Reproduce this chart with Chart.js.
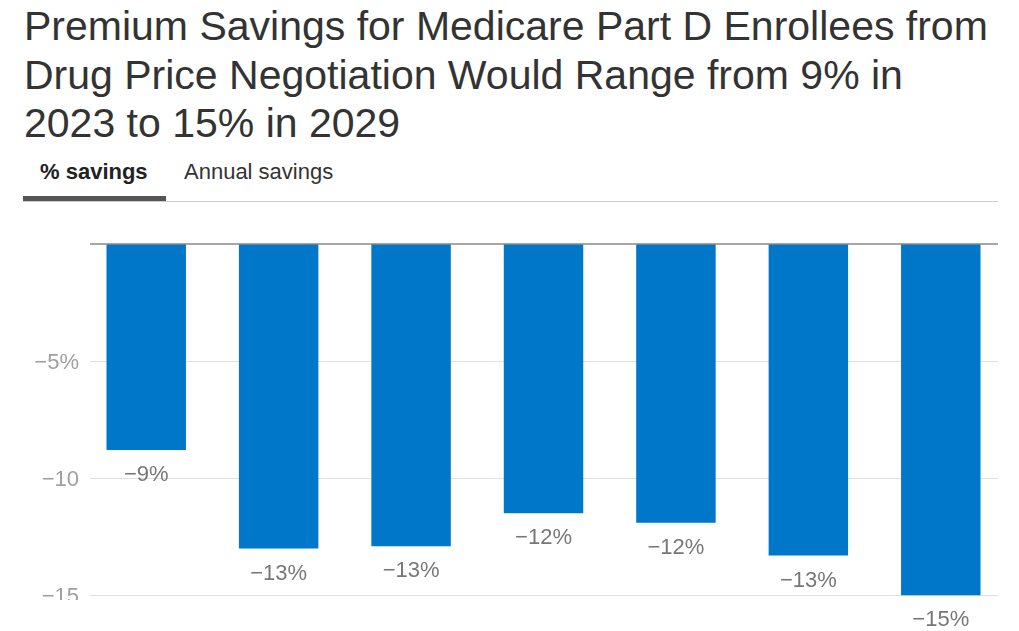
<!DOCTYPE html>
<html>
<head>
<meta charset="utf-8">
<script src="https://cdn.jsdelivr.net/npm/chart.js@4.4.1/dist/chart.umd.min.js"></script>
<style>
  html, body { margin: 0; padding: 0; background: #fff; overflow: hidden; }
  body { width: 1019px; height: 631px; position: relative; font-family: "Liberation Sans", Arial, sans-serif; }
  .title { position: absolute; left: 24px; top: 2px; width: 995px; font-size: 41px; line-height: 48.5px; color: #333; white-space: nowrap; }
  .tabs { position: absolute; left: 23px; top: 158px; width: 975px; height: 43px; border-bottom: 1px solid #ccc; }
  .tab { position: absolute; top: 1px; font-size: 22px; color: #333; }
  .tab.on { left: 17px; font-weight: bold; color: #222; }
  .tab.off { left: 161px; }
  .bar { position: absolute; left: 0; top: 38px; width: 143px; height: 5px; background: #555; }
  .chart-container { position: absolute; left: 0; top: 210px; width: 1019px; height: 421px; }
</style>
</head>
<body>
<div class="title">Premium Savings for Medicare Part D Enrollees from<br>Drug Price Negotiation Would Range from 9% in<br>2023 to 15% in 2029</div>
<div class="tabs">
  <div class="tab on">% savings</div>
  <div class="tab off">Annual savings</div>
  <div class="bar"></div>
</div>
<div class="chart-container"><canvas id="chart"></canvas></div>
<script>
const years = ['2023', '2024', '2025', '2026', '2027', '2028', '2029'];
const savings = [-8.8, -13.0, -12.9, -11.5, -11.9, -13.3, -15.0];
const tickValues = [-5, -10, -15];
const tickLabels = ['\u22125%', '\u221210', '\u221215'];

const fmt = v => '\u2212' + Math.round(Math.abs(v)) + '%';

// grid, zero line and y labels (the labels are cut at the plot bottom like the original)
const axisPlugin = {
  id: 'axisPlugin',
  beforeDatasetsDraw(chart) {
    const { ctx, chartArea, scales: { y } } = chart;
    ctx.save();
    ctx.strokeStyle = '#e0e0e0';
    ctx.lineWidth = 1;
    tickValues.forEach(v => {
      const py = Math.round(y.getPixelForValue(v)) + 0.5;
      ctx.beginPath();
      ctx.moveTo(90, py);
      ctx.lineTo(998, py);
      ctx.stroke();
    });
    ctx.beginPath();
    ctx.rect(0, 0, chart.width, chartArea.bottom);
    ctx.clip();
    ctx.fillStyle = '#a0a0a0';
    ctx.font = '22px "Liberation Sans", Arial, sans-serif';
    ctx.textAlign = 'right';
    ctx.textBaseline = 'middle';
    tickValues.forEach((v, i) => {
      ctx.fillText(tickLabels[i], 79, y.getPixelForValue(v) + 2);
    });
    ctx.restore();
  },
  afterDatasetsDraw(chart) {
    const { ctx, scales: { y } } = chart;
    ctx.save();
    ctx.strokeStyle = '#888';
    ctx.lineWidth = 1.5;
    const py = y.getPixelForValue(0);
    ctx.beginPath();
    ctx.moveTo(90, py);
    ctx.lineTo(998, py);
    ctx.stroke();
    ctx.fillStyle = '#777';
    ctx.font = '22px "Liberation Sans", Arial, sans-serif';
    ctx.textAlign = 'center';
    ctx.textBaseline = 'middle';
    chart.getDatasetMeta(0).data.forEach((bar, i) => {
      ctx.fillText(fmt(savings[i]), bar.x, bar.y + 25);
    });
    ctx.restore();
  }
};

new Chart(document.getElementById('chart'), {
  type: 'bar',
  data: {
    labels: years,
    datasets: [{
      data: savings,
      backgroundColor: '#0077c8',
      borderWidth: 0,
      categoryPercentage: 1,
      barPercentage: 0.6
    }]
  },
  options: {
    responsive: true,
    maintainAspectRatio: false,
    animation: false,
    layout: { padding: { left: 80, right: 12, top: 34, bottom: 31 } },
    plugins: { legend: { display: false }, tooltip: { enabled: false } },
    scales: {
      x: { display: false },
      y: { display: false, min: -15.2, max: 0 }
    }
  },
  plugins: [axisPlugin]
});
</script>
</body>
</html>
